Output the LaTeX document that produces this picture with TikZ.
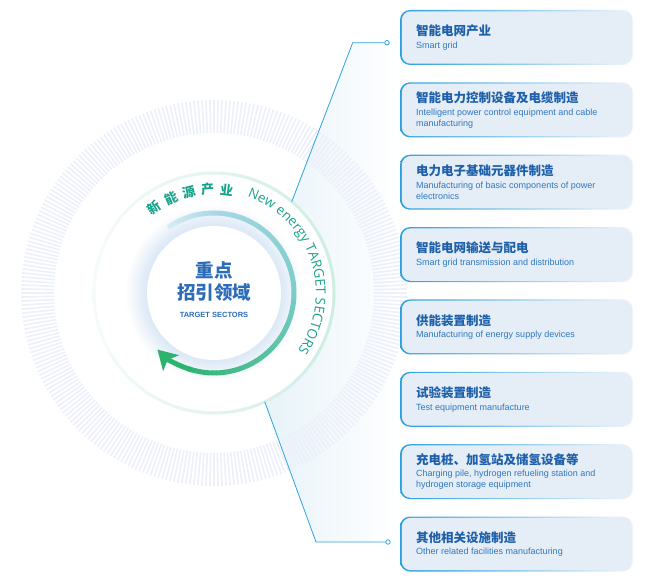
\documentclass[tikz,border=0pt]{standalone}
\usepackage{fontspec}
\setmainfont{Liberation Sans}
\newfontfamily\cjk{Noto Sans CJK SC}
\newfontfamily\ringfont{Open Sans}
\usetikzlibrary{arrows.meta,decorations.text}

\definecolor{boxfill}{RGB}{229,237,246}
\definecolor{edgeblue}{RGB}{42,160,224}
\definecolor{edgeteal}{RGB}{150,212,222}
\definecolor{titleblue}{RGB}{30,96,170}
\definecolor{textblue}{RGB}{46,120,194}
\definecolor{centerblue}{RGB}{45,108,184}
\definecolor{ringteal}{RGB}{26,163,140}
\definecolor{linkblue}{RGB}{45,164,226}
\definecolor{tickgray}{RGB}{237,240,251}
\definecolor{ringmint}{RGB}{206,237,227}
\definecolor{regfill}{RGB}{231,243,249}
\definecolor{glowblue}{RGB}{206,224,242}
\definecolor{arcA}{RGB}{214,235,244}
\definecolor{arcB}{RGB}{166,216,230}
\definecolor{arcC}{RGB}{122,204,198}
\definecolor{arcD}{RGB}{44,180,110}

\begin{document}
\begin{tikzpicture}[x=1pt, y=1pt,
    ringtick/.style={tickgray, line width=1.6pt},
    arcseg/.style={line width=5pt},
    linkline/.style={linkblue, line width=0.8pt},
    linkdot/.style={circle, draw=linkblue, fill=white, line width=0.8pt, inner sep=0pt, minimum size=4.5pt},
    sector/.style={anchor=west, inner sep=0pt, font=\fontsize{9}{11}\selectfont},
    ringzh/.style={font=\cjk\bfseries\fontsize{13}{13}\selectfont, text=ringteal, inner sep=0pt},
    centerzh/.style={font=\cjk\bfseries\fontsize{18.5}{20}\selectfont, text=centerblue, inner sep=0pt}]
    \fill[white] (0,0) rectangle (663,584);
    \useasboundingbox (0,0) rectangle (663,584);

    \coordinate (C) at (214,291);

    % Points of the two links
    \coordinate (tr) at ([shift={(49.6:120)}]C);
    \coordinate (br) at ([shift={(-65:120)}]C);
    \coordinate (topbend) at (352.7,541.3);
    \coordinate (botbend) at (316,42);

    % Light area behind the links
    \shade[left color=regfill, right color=white] (tr) arc[start angle=49.6, end angle=-65, radius=120]
        -- (botbend) -- (400,42) -- (400,541.3) -- (topbend) -- cycle;

    % Ring of ticks
    \foreach \i in {0,...,299}
        \draw[ringtick] ([shift={(\i*1.2:160)}]C) -- ([shift={(\i*1.2:193)}]C);

    % Thin outer ring
    \shade[left color=ringmint!20!white, right color=ringmint, even odd rule]
        (C) circle[radius=121.5] (C) circle[radius=118.5];

    % Glow round the centre
    \foreach \i in {0,...,20} {
        \pgfmathtruncatemacro\p{2+\i*3.5}
        \fill[glowblue!\p!white] (C) circle[radius=88-\i];
    }

    % Arc, light blue -> teal -> green
    \foreach \a in {125,122,...,92} {
        \pgfmathtruncatemacro\p{(125-\a)/35*100}
        \draw[arcseg, arcB!\p!arcA] ([shift={(\a:80)}]C) arc[start angle=\a, end angle=\a-3.3, radius=80];
    }
    \foreach \a in {89,86,...,2} {
        \pgfmathtruncatemacro\p{(90-\a)/90*100}
        \draw[arcseg, arcC!\p!arcB] ([shift={(\a:80)}]C) arc[start angle=\a, end angle=\a-3.3, radius=80];
    }
    \foreach \a in {-1,-4,...,-106} {
        \pgfmathtruncatemacro\p{(0-\a)/110*100}
        \draw[arcseg, arcD!\p!arcC] ([shift={(\a:80)}]C) arc[start angle=\a, end angle=\a-3.3, radius=80];
    }
    \draw[arcseg, arcD, -{Stealth[length=19pt, width=22pt, inset=4.5pt]}]
        ([shift={(-106:80)}]C) arc[start angle=-106, end angle=-135, radius=80];

    % Centre disc
    \fill[white] (C) circle[radius=67];
    \node[centerzh] (zd) at (214,314) {重点};
    \node[centerzh] (zy) at (214,291) {招引领域};
    \node[font=\bfseries\fontsize{7.5}{8}\selectfont, text=centerblue, inner sep=0pt] (ts) at (214,269) {TARGET SECTORS};

    % Texts on the ring
    \foreach \ch [count=\k from 0] in {新,能,源,产,业}
        \node[ringzh, rotate=35-10.5*\k] (rz\k) at ([shift={(125-10.5*\k:104)}]C) {\ch};
    \path[decorate, decoration={text along path, text align=left, text color=ringteal,
        text={|\ringfont\fontsize{13.5}{14}\selectfont|New energy TARGET SECTORS}}]
        ([shift={(71:102)}]C) arc[start angle=71, end angle=-60, radius=102];

    % Links
    \node[linkdot] (d1) at (387,541.3) {};
    \node[linkdot] (d8) at (388,42) {};
    \draw[linkline] (d1) -- (topbend) -- (tr);
    \draw[linkline] (d8) -- (botbend) -- (br);

    % Sector boxes
    \foreach \i/\zh/\en in {
        1/智能电网产业/Smart grid,
        2/智能电力控制设备及电缆制造/{Intelligent power control equipment and cable\\manufacturing},
        3/电力电子基础元器件制造/{Manufacturing of basic components of power\\electronics},
        4/智能电网输送与配电/Smart grid transmission and distribution,
        5/供能装置制造/Manufacturing of energy supply devices,
        6/试验装置制造/Test equipment manufacture,
        7/充电桩、加氢站及储氢设备等/{Charging pile, hydrogen refueling station and\\hydrogen storage equipment},
        8/其他相关设施制造/Other related facilities manufacturing} {
        \pgfmathsetmacro\by{546.5-72.36*(\i-1)}
        \shade[left color=edgeblue, middle color=edgeteal, right color=boxfill!50!white, rounded corners=10pt]
            (400,\by-27.5) rectangle (633,\by+27.5);
        \fill[boxfill, rounded corners=8.8pt] (401.8,\by-26.2) rectangle (632,\by+26.2);
        \node[sector] (s\i) at (416,\by) {\parbox{214pt}{\raggedright
            {\cjk\bfseries\fontsize{12.5}{14}\selectfont\color{titleblue}\zh}\par
            \vspace{1.5pt}\color{textblue}\en}};
    }
\end{tikzpicture}
\end{document}
